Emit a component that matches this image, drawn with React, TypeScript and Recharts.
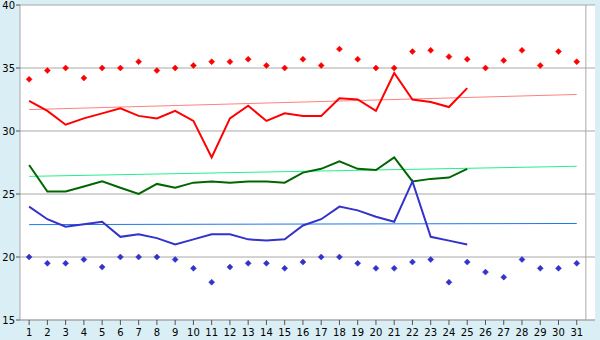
import React from 'react';
import { LineChart, Line, XAxis, YAxis, CartesianGrid, ReferenceLine } from 'recharts';

const days = [1,2,3,4,5,6,7,8,9,10,11,12,13,14,15,16,17,18,19,20,21,22,23,24,25,26,27,28,29,30,31];
const redPoints = [34.1,34.8,35.0,34.2,35.0,35.0,35.5,34.8,35.0,35.2,35.5,35.5,35.7,35.2,35.0,35.7,35.2,36.5,35.7,35.0,35.0,36.3,36.4,35.9,35.7,35.0,35.6,36.4,35.2,36.3,35.5];
const redLine = [32.4,31.6,30.5,31.0,31.4,31.8,31.2,31.0,31.6,30.8,27.9,31.0,32.0,30.8,31.4,31.2,31.2,32.6,32.5,31.6,34.6,32.5,32.3,31.9,33.4];
const greenLine = [27.3,25.2,25.2,25.6,26.0,25.5,25.0,25.8,25.5,25.9,26.0,25.9,26.0,26.0,25.9,26.7,27.0,27.6,27.0,26.9,27.9,26.0,26.2,26.3,27.0];
const blueLine = [24.0,23.0,22.4,22.6,22.8,21.6,21.8,21.5,21.0,21.4,21.8,21.8,21.4,21.3,21.4,22.5,23.0,24.0,23.7,23.2,22.8,26.0,21.6,21.3,21.0];
const bluePoints = [20.0,19.5,19.5,19.8,19.2,20.0,20.0,20.0,19.8,19.1,18.0,19.2,19.5,19.5,19.1,19.6,20.0,20.0,19.5,19.1,19.1,19.6,19.8,18.0,19.6,18.8,18.4,19.8,19.1,19.1,19.5];
const redTrend = [31.7, 32.9];
const greenTrend = [26.4, 27.2];
const blueTrend = [22.57, 22.66];
const yTicks = [15, 20, 25, 30, 35, 40];

const data = days.map((d, i) => {
  const last = i === days.length - 1;
  const first = i === 0;
  return {
    day: d,
    hi: redPoints[i],
    red: i < redLine.length ? redLine[i] : null,
    green: i < greenLine.length ? greenLine[i] : null,
    blue: i < blueLine.length ? blueLine[i] : null,
    lo: bluePoints[i],
    rt: first ? redTrend[0] : last ? redTrend[1] : null,
    gt: first ? greenTrend[0] : last ? greenTrend[1] : null,
    bt: first ? blueTrend[0] : last ? blueTrend[1] : null,
  };
});

const makeDiamond = (color: string) => (props: any) => {
  const { cx, cy, index } = props;
  if (cx == null || cy == null || props.value == null) return <g key={index} />;
  const r = 3;
  return (
    <polygon
      key={index}
      points={`${cx},${cy - r} ${cx + r},${cy} ${cx},${cy + r} ${cx - r},${cy}`}
      fill={color}
      stroke={color}
      strokeWidth={0.5}
    />
  );
};

const tickStyle = { fontFamily: 'DejaVu Sans', fontSize: 10, fill: '#000' };

export default function App() {
  return (
    <div style={{ position: 'absolute', left: 0, top: 0, width: 600, height: 340, background: '#D9EEF5' }}>
      <LineChart width={600} height={340} data={data} margin={{ top: 5, right: 5, bottom: 5, left: 0 }}>
        <CartesianGrid horizontal vertical={false} stroke="#A8A8A8" fill="#FFFFFF" />
        <XAxis
          dataKey="day"
          type="number"
          domain={[0.5, 31.5]}
          ticks={days}
          interval={0}
          height={15}
          tickSize={5}
          tickMargin={4}
          tick={tickStyle}
          stroke="#A8A8A8"
          tickLine={{ stroke: '#555' }}
          allowDecimals={false}
        />
        <YAxis
          type="number"
          domain={[15, 40]}
          ticks={yTicks}
          width={20}
          tickSize={4}
          tickMargin={1}
          tick={tickStyle}
          stroke="#A8A8A8"
          tickLine={{ stroke: '#555' }}
          interval={0}
        />
        <ReferenceLine x={31.5} stroke="#A8A8A8" ifOverflow="visible" />
        <Line dataKey="rt" stroke="#FF8080" strokeWidth={1} dot={false} connectNulls isAnimationActive={false} />
        <Line dataKey="gt" stroke="#22F08C" strokeWidth={1} dot={false} connectNulls isAnimationActive={false} />
        <Line dataKey="bt" stroke="#1E78E6" strokeWidth={1} dot={false} connectNulls isAnimationActive={false} />
        <Line dataKey="red" stroke="#FF0000" strokeWidth={2} dot={false} isAnimationActive={false} />
        <Line dataKey="green" stroke="#006600" strokeWidth={2} dot={false} isAnimationActive={false} />
        <Line dataKey="blue" stroke="#3333CC" strokeWidth={2} dot={false} isAnimationActive={false} />
        <Line dataKey="hi" stroke="none" dot={makeDiamond('#FF0000')} activeDot={false} isAnimationActive={false} />
        <Line dataKey="lo" stroke="none" dot={makeDiamond('#3333CC')} activeDot={false} isAnimationActive={false} />
      </LineChart>
    </div>
  );
}
